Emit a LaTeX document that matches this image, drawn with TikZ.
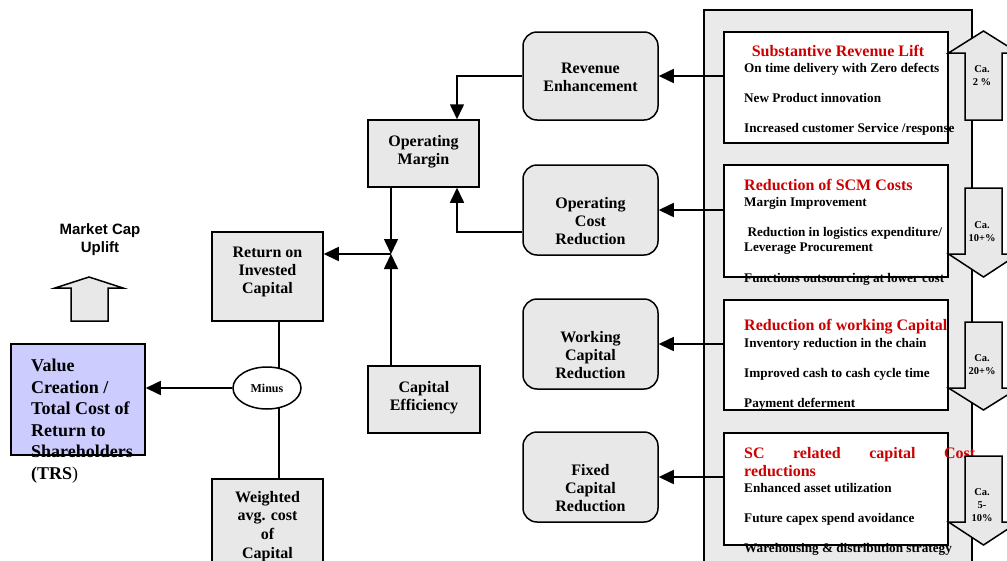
\documentclass[tikz,border=0pt]{standalone}
\usepackage{fontspec}
\setmainfont{Liberation Serif}
\newfontfamily\arialfont{Liberation Sans}
\usetikzlibrary{arrows.meta,shapes.geometric}
\definecolor{boxgray}{HTML}{E8E8E8}
\definecolor{panelgray}{HTML}{EAEAEA}
\definecolor{lavender}{HTML}{CCCCFF}
\definecolor{titlered}{HTML}{CC0000}
\newcommand\fsz[2]{\fontsize{#1}{#2}\selectfont}

\begin{document}
\begin{tikzpicture}[x=1pt,y=-1pt,
  frame/.style={draw, line width=1.5pt, inner sep=0pt},
  graybox/.style={frame, fill=boxgray},
  roundbox/.style={graybox, rounded corners=14pt},
  whitebox/.style={frame, fill=white, minimum width=224pt},
  boxtext/.style={inner sep=0pt, anchor=north, align=center, font=\bfseries\fsz{16}{18}},
  itemtext/.style={inner sep=0pt, anchor=base west, font=\bfseries\fsz{13.2}{15}},
  headtext/.style={inner sep=0pt, anchor=base west, text=titlered, font=\bfseries\fsz{16}{18}},
  pcttext/.style={inner sep=0pt, align=center, font=\bfseries\fsz{10.5}{13}},
  conn/.style={line width=1.6pt, -{Triangle[length=15pt,width=14pt]}},
  wire/.style={draw=black, line width=1.8pt},
  fat/.style={draw, line width=1.5pt, fill=boxgray, line join=miter},
]
\useasboundingbox (0,0) rectangle (1007,560);
\clip (0,0) rectangle (1007,560);

% ---- right-hand panel with the four lever boxes ----
\node[frame, fill=panelgray, minimum width=268pt, minimum height=600pt, anchor=north west] (panel) at (703,9) {};

\node[whitebox, minimum height=111pt] (b1) at (836,87.5) {};
\node[whitebox, minimum height=112pt] (b2) at (836,221) {};
\node[whitebox, minimum height=110pt] (b3) at (836,355) {};
\node[whitebox, minimum height=112pt] (b4) at (836,489) {};

\node[headtext, anchor=base] (h1) at (838,56) {Substantive Revenue Lift};
\node[itemtext] (i11) at (744,72.5) {On time delivery with Zero defects};
\node[itemtext] (i12) at (744,102.5) {New Product innovation};
\node[itemtext] (i13) at (744,132.5) {Increased customer Service /response};

\node[headtext] (h2) at (744,190) {Reduction of SCM Costs};
\node[itemtext] (i21) at (744,206.5) {Margin Improvement};
\node[itemtext] (i22) at (744,236.5) {\ Reduction in logistics expenditure/};
\node[itemtext] (i23) at (744,251.5) {Leverage Procurement};
\node[itemtext] (i24) at (744,282.5) {Functions outsourcing at lower cost};

\node[headtext] (h3) at (744,330) {Reduction of working Capital};
\node[itemtext] (i31) at (744,347.5) {Inventory reduction in the chain};
\node[itemtext] (i32) at (744,377.5) {Improved cash to cash cycle time};
\node[itemtext] (i33) at (744,407.5) {Payment deferment};

\node[headtext] (h4a) at (744,458) {\makebox[231pt][s]{SC related capital Cost}};
\node[headtext] (h4b) at (744,476) {reductions};
\node[itemtext] (i41) at (744,492.5) {Enhanced asset utilization};
\node[itemtext] (i42) at (744,522.5) {Future capex spend avoidance};
\node[itemtext] (i43) at (744,552.5) {Warehousing \& distribution strategy};

% ---- block arrows with the expected impact ----
\draw[fat] (983.5,31) -- (1018.5,53) -- (1002,53) -- (1002,120) -- (965,120) -- (965,53) -- (948.5,53) -- cycle;
\draw[fat] (965,188) -- (1002,188) -- (1002,254) -- (1018.5,254) -- (983.5,277) -- (948.5,254) -- (965,254) -- cycle;
\draw[fat] (965,322) -- (1002,322) -- (1002,388) -- (1018.5,388) -- (983.5,410) -- (948.5,388) -- (965,388) -- cycle;
\draw[fat] (965,456) -- (1002,456) -- (1002,522) -- (1018.5,522) -- (983.5,545) -- (948.5,522) -- (965,522) -- cycle;
\node[pcttext, anchor=north] (p1) at (982,65) {Ca.\\2 \%};
\node[pcttext, anchor=north] (p2) at (982,221) {Ca.\\10+\%};
\node[pcttext, anchor=north] (p3) at (982,354) {Ca.\\20+\%};
\node[pcttext, anchor=north] (p4) at (982,488) {Ca.\\5-\\10\%};

% ---- value drivers ----
\node[roundbox, minimum width=135pt, minimum height=88pt] (rev) at (590.5,76) {};
\node[roundbox, minimum width=135pt, minimum height=90pt] (opc) at (590.5,210) {};
\node[roundbox, minimum width=135pt, minimum height=90pt] (wcr) at (590.5,344) {};
\node[roundbox, minimum width=135pt, minimum height=90pt] (fcr) at (590.5,477) {};
\node[boxtext] (revT) at (590.5,63) {Revenue\\Enhancement};
\node[boxtext] (opcT) at (590.5,197) {Operating\\Cost\\Reduction};
\node[boxtext] (wcrT) at (590.5,331) {Working\\Capital\\Reduction};
\node[boxtext] (fcrT) at (590.5,464) {Fixed\\Capital\\Reduction};

\node[graybox, minimum width=111pt, minimum height=67pt] (om) at (423.5,153.5) {};
\node[graybox, minimum width=112pt, minimum height=67pt] (ce) at (424,399.5) {};
\node[graybox, minimum width=111pt, minimum height=89pt] (roic) at (267.5,276.5) {};
\node[graybox, minimum width=111pt, minimum height=120pt, anchor=north] (wacc) at (267.5,478) {};
\node[boxtext] (omT) at (423.5,135) {Operating\\Margin};
\node[boxtext] (ceT) at (424,381) {Capital\\Efficiency};
\node[boxtext] (roicT) at (267.5,247) {Return on\\Invested\\Capital};
\node[boxtext, font=\bfseries\fsz{16}{18.6}] (waccT) at (267.5,491) {Weighted\\avg. cost\\of\\Capital};

% ---- ROIC minus WACC ----
\coordinate (mt) at (279,369);
\coordinate (mb) at (279,407);
\draw[wire] (roic.south -| mt) -- (mt);
\draw[wire] (mb) -- (mb |- wacc.north);
\node[draw, line width=1.5pt, fill=white, ellipse, minimum width=68pt, minimum height=42pt, inner sep=0pt,
      font=\bfseries\fsz{12}{14}] (mn) at (267,388) {Minus};

\node[frame, fill=lavender, minimum width=134pt, minimum height=111pt] (vc) at (78,399.5) {};
\node[inner sep=0pt, anchor=north west, align=left, font=\bfseries\fsz{18}{21.5}] (vcT) at (31,359)
  {Value\\Creation /\\Total Cost of\\Return to\\Shareholders\\(TRS{\mdseries)}};

\node[inner sep=0pt, anchor=north, align=center, font=\arialfont\bfseries\fsz{15}{18}] (mcap) at (100,223) {Market Cap\\Uplift};
\draw[fat] (89,277) -- (123,288) -- (108,288) -- (108,321) -- (71,321) -- (71,288) -- (55,288) -- cycle;

% ---- connectors ----
\draw[conn] (b1.west |- rev.east) -- (rev.east);
\draw[conn] (b2.west |- opc.east) -- (opc.east);
\draw[conn] (b3.west |- wcr.east) -- (wcr.east);
\draw[conn] (b4.west |- fcr.east) -- (fcr.east);

\draw[conn] (rev.west) -| ([xshift=33.5pt]om.north);
\draw[conn] ([yshift=-22pt]opc.west) -| ([xshift=33.5pt]om.south);

\coordinate (j) at (391,254);
\draw[conn] (om.south -| j) -- (j);
\draw[conn] (ce.north -| j) -- (j);
\draw[conn] (j) -- (roic.east |- j);

\draw[conn] (mn.west) -- (vc.east |- mn.west);
\end{tikzpicture}
\end{document}
